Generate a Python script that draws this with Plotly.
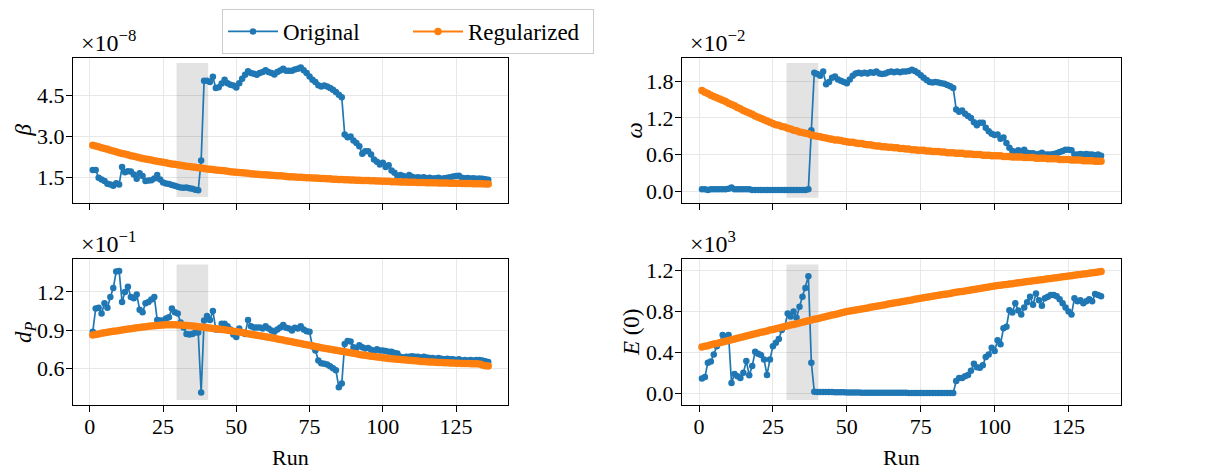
import plotly.graph_objects as go
from plotly.subplots import make_subplots

runs = list(range(1, 137))

beta_orig = [1.78, 1.78, 1.50, 1.44, 1.38, 1.28, 1.26, 1.21, 1.30, 1.26,
             1.89, 1.70, 1.74, 1.73, 1.62, 1.46, 1.66, 1.56, 1.38, 1.40,
             1.41, 1.47, 1.60, 1.44, 1.33, 1.29, 1.27, 1.24, 1.21, 1.17,
             1.15, 1.14, 1.15, 1.12, 1.10, 1.07, 1.05, 2.13, 5.02, 5.02,
             4.97, 5.16, 4.75, 4.78, 4.92, 5.05, 4.93, 4.87, 4.84, 4.77,
             4.93, 5.09, 5.23, 5.36, 5.30, 5.27, 5.23, 5.30, 5.33, 5.40,
             5.33, 5.30, 5.24, 5.33, 5.39, 5.45, 5.38, 5.38, 5.38, 5.42,
             5.45, 5.50, 5.40, 5.30, 5.17, 5.05, 4.97, 4.85, 4.81, 4.84,
             4.81, 4.75, 4.69, 4.61, 4.51, 4.42, 3.07, 2.97, 3.00, 2.85,
             2.76, 2.64, 2.37, 2.46, 2.46, 2.34, 2.16, 2.08, 1.98, 2.04,
             1.89, 1.95, 1.76, 1.68, 1.56, 1.60, 1.56, 1.52, 1.60, 1.54,
             1.50, 1.52, 1.50, 1.52, 1.48, 1.50, 1.47, 1.48, 1.50, 1.46,
             1.48, 1.50, 1.52, 1.55, 1.56, 1.57, 1.50, 1.48, 1.49, 1.47,
             1.48, 1.46, 1.47, 1.46, 1.45, 1.43]
beta_reg = [2.68, 2.65, 2.62, 2.59, 2.56, 2.53, 2.50, 2.47, 2.44, 2.41,
            2.38, 2.36, 2.33, 2.30, 2.28, 2.25, 2.23, 2.20, 2.18, 2.16,
            2.14, 2.12, 2.10, 2.08, 2.06, 2.04, 2.02, 2.00, 1.99, 1.97,
            1.95, 1.94, 1.92, 1.91, 1.89, 1.88, 1.86, 1.85, 1.84, 1.82,
            1.81, 1.80, 1.78, 1.77, 1.76, 1.75, 1.74, 1.72, 1.71, 1.70,
            1.69, 1.68, 1.67, 1.66, 1.65, 1.64, 1.63, 1.62, 1.61, 1.61,
            1.60, 1.59, 1.58, 1.57, 1.57, 1.56, 1.55, 1.54, 1.54, 1.53,
            1.52, 1.52, 1.51, 1.50, 1.50, 1.49, 1.49, 1.48, 1.47, 1.47,
            1.46, 1.46, 1.45, 1.45, 1.44, 1.44, 1.43, 1.43, 1.42, 1.42,
            1.41, 1.41, 1.40, 1.40, 1.40, 1.39, 1.39, 1.38, 1.38, 1.37,
            1.37, 1.37, 1.36, 1.36, 1.36, 1.35, 1.35, 1.35, 1.34, 1.34,
            1.34, 1.33, 1.33, 1.33, 1.32, 1.32, 1.32, 1.32, 1.31, 1.31,
            1.31, 1.31, 1.30, 1.30, 1.30, 1.30, 1.29, 1.29, 1.29, 1.29,
            1.28, 1.28, 1.28, 1.28, 1.27, 1.27]

omega_orig = [0.03, 0.03, 0.02, 0.03, 0.03, 0.03, 0.03, 0.03, 0.03, 0.04,
              0.06, 0.03, 0.03, 0.03, 0.03, 0.03, 0.03, 0.02, 0.02, 0.02,
              0.02, 0.02, 0.02, 0.02, 0.02, 0.02, 0.02, 0.02, 0.02, 0.02,
              0.02, 0.02, 0.02, 0.02, 0.02, 0.02, 0.03, 1.00, 1.94, 1.92,
              1.89, 1.96, 1.75, 1.79, 1.86, 1.88, 1.83, 1.81, 1.79, 1.77,
              1.83, 1.89, 1.93, 1.94, 1.93, 1.94, 1.93, 1.95, 1.94, 1.96,
              1.93, 1.92, 1.93, 1.95, 1.96, 1.95, 1.96, 1.95, 1.96, 1.96,
              1.97, 1.99, 1.97, 1.94, 1.90, 1.86, 1.82, 1.79, 1.78, 1.79,
              1.78, 1.77, 1.76, 1.74, 1.72, 1.69, 1.34, 1.30, 1.32, 1.27,
              1.23, 1.20, 1.13, 1.08, 1.12, 1.12, 1.04, 0.98, 0.94, 0.92,
              0.93, 0.86, 0.88, 0.79, 0.71, 0.66, 0.64, 0.67, 0.63, 0.68,
              0.63, 0.62, 0.62, 0.60, 0.61, 0.63, 0.60, 0.60, 0.60, 0.61,
              0.62, 0.64, 0.66, 0.68, 0.68, 0.67, 0.60, 0.60, 0.61, 0.60,
              0.61, 0.60, 0.60, 0.59, 0.60, 0.58]
omega_reg = [1.65, 1.62, 1.60, 1.57, 1.55, 1.53, 1.51, 1.49, 1.47, 1.44,
             1.42, 1.40, 1.37, 1.35, 1.32, 1.30, 1.28, 1.26, 1.23, 1.21,
             1.19, 1.17, 1.15, 1.13, 1.11, 1.09, 1.08, 1.06, 1.05, 1.03,
             1.02, 1.00, 0.99, 0.97, 0.96, 0.95, 0.94, 0.92, 0.91, 0.90,
             0.89, 0.88, 0.87, 0.86, 0.85, 0.84, 0.84, 0.83, 0.82, 0.81,
             0.80, 0.80, 0.79, 0.78, 0.78, 0.77, 0.76, 0.76, 0.75, 0.74,
             0.74, 0.73, 0.73, 0.72, 0.72, 0.71, 0.71, 0.70, 0.70, 0.69,
             0.69, 0.68, 0.68, 0.67, 0.67, 0.67, 0.66, 0.66, 0.65, 0.65,
             0.65, 0.64, 0.64, 0.63, 0.63, 0.63, 0.62, 0.62, 0.62, 0.61,
             0.61, 0.61, 0.60, 0.60, 0.60, 0.59, 0.59, 0.59, 0.58, 0.58,
             0.58, 0.58, 0.57, 0.57, 0.57, 0.56, 0.56, 0.56, 0.56, 0.55,
             0.55, 0.55, 0.55, 0.54, 0.54, 0.54, 0.54, 0.53, 0.53, 0.53,
             0.53, 0.52, 0.52, 0.52, 0.52, 0.51, 0.51, 0.51, 0.51, 0.50,
             0.50, 0.50, 0.50, 0.49, 0.49, 0.49]

dp_orig = [0.887, 1.07, 1.075, 1.03, 1.11, 1.075, 1.16, 1.23, 1.36, 1.365,
           1.12, 1.20, 1.24, 1.16, 1.15, 1.18, 1.06, 1.04, 1.11, 1.12,
           1.14, 1.16, 0.98, 0.976, 0.976, 0.99, 1.00, 1.07, 1.04, 1.03,
           0.96, 0.92, 0.87, 0.866, 0.87, 0.88, 0.88, 0.41, 0.976, 1.01,
           0.98, 1.05, 0.905, 0.905, 0.95, 0.95, 0.93, 0.905, 0.866, 0.845,
           0.913, 0.88, 0.87, 0.98, 0.93, 0.92, 0.92, 0.92, 0.913, 0.93,
           0.913, 0.897, 0.887, 0.905, 0.92, 0.94, 0.918, 0.913, 0.897, 0.918,
           0.913, 0.93, 0.905, 0.89, 0.887, 0.77, 0.74, 0.66, 0.64, 0.635,
           0.63, 0.615, 0.60, 0.585, 0.45, 0.48, 0.79, 0.815, 0.81, 0.765,
           0.76, 0.78, 0.765, 0.755, 0.76, 0.745, 0.735, 0.75, 0.74, 0.74,
           0.735, 0.73, 0.73, 0.72, 0.715, 0.69, 0.685, 0.69, 0.69, 0.695,
           0.69, 0.69, 0.685, 0.69, 0.685, 0.68, 0.68, 0.675, 0.68, 0.675,
           0.67, 0.675, 0.67, 0.67, 0.665, 0.67, 0.66, 0.665, 0.66, 0.665,
           0.66, 0.665, 0.665, 0.66, 0.655, 0.65]
dp_reg = [0.862, 0.866, 0.870, 0.874, 0.878, 0.882, 0.886, 0.890, 0.893, 0.897,
          0.901, 0.904, 0.908, 0.911, 0.915, 0.918, 0.921, 0.924, 0.927, 0.930,
          0.932, 0.934, 0.936, 0.938, 0.940, 0.941, 0.941, 0.941, 0.941, 0.940,
          0.939, 0.937, 0.936, 0.934, 0.932, 0.930, 0.927, 0.925, 0.922, 0.918,
          0.916, 0.913, 0.910, 0.908, 0.905, 0.902, 0.898, 0.895, 0.891, 0.888,
          0.884, 0.880, 0.876, 0.872, 0.868, 0.864, 0.860, 0.856, 0.852, 0.848,
          0.844, 0.839, 0.835, 0.830, 0.826, 0.821, 0.817, 0.812, 0.808, 0.803,
          0.798, 0.794, 0.789, 0.785, 0.780, 0.776, 0.771, 0.767, 0.762, 0.758,
          0.754, 0.750, 0.745, 0.741, 0.737, 0.733, 0.729, 0.725, 0.721, 0.717,
          0.713, 0.709, 0.705, 0.702, 0.698, 0.695, 0.692, 0.689, 0.686, 0.683,
          0.680, 0.677, 0.675, 0.672, 0.670, 0.668, 0.666, 0.664, 0.662, 0.660,
          0.658, 0.656, 0.654, 0.653, 0.651, 0.650, 0.649, 0.648, 0.646, 0.645,
          0.644, 0.643, 0.642, 0.641, 0.640, 0.639, 0.638, 0.638, 0.637, 0.636,
          0.636, 0.635, 0.634, 0.625, 0.620, 0.618]

e0_orig = [0.144, 0.16, 0.30, 0.31, 0.38, 0.46, 0.495, 0.57, 0.55, 0.57,
           0.10, 0.19, 0.167, 0.15, 0.20, 0.315, 0.177, 0.266, 0.407, 0.387,
           0.374, 0.33, 0.18, 0.33, 0.46, 0.495, 0.53, 0.62, 0.65, 0.78,
           0.75, 0.80, 0.74, 0.846, 0.944, 1.03, 1.144, 0.30, 0.015, 0.014,
           0.014, 0.013, 0.013, 0.012, 0.012, 0.011, 0.011, 0.010, 0.010, 0.009,
           0.008, 0.008, 0.007, 0.007, 0.006, 0.005, 0.005, 0.005, 0.005, 0.005,
           0.005, 0.005, 0.005, 0.005, 0.005, 0.005, 0.005, 0.005, 0.005, 0.005,
           0.004, 0.004, 0.004, 0.004, 0.004, 0.004, 0.004, 0.004, 0.004, 0.004,
           0.004, 0.004, 0.004, 0.004, 0.004, 0.004, 0.12, 0.15, 0.15, 0.167,
           0.18, 0.22, 0.29, 0.256, 0.25, 0.275, 0.354, 0.38, 0.446, 0.413,
           0.518, 0.48, 0.636, 0.65, 0.813, 0.79, 0.88, 0.81, 0.77, 0.84,
           0.89, 0.944, 0.866, 0.977, 0.91, 0.856, 0.93, 0.944, 0.96, 0.96,
           0.95, 0.92, 0.88, 0.84, 0.80, 0.77, 0.93, 0.90, 0.91, 0.88,
           0.90, 0.92, 0.90, 0.97, 0.96, 0.95]
e0_reg = [0.452, 0.459, 0.466, 0.474, 0.481, 0.488, 0.495, 0.502, 0.510, 0.517,
          0.524, 0.531, 0.538, 0.546, 0.553, 0.560, 0.567, 0.574, 0.582, 0.589,
          0.596, 0.603, 0.610, 0.618, 0.625, 0.632, 0.639, 0.646, 0.653, 0.660,
          0.667, 0.674, 0.681, 0.688, 0.695, 0.702, 0.709, 0.716, 0.723, 0.730,
          0.737, 0.744, 0.751, 0.758, 0.765, 0.771, 0.778, 0.785, 0.792, 0.799,
          0.804, 0.809, 0.815, 0.820, 0.825, 0.830, 0.835, 0.841, 0.846, 0.851,
          0.856, 0.861, 0.867, 0.872, 0.877, 0.882, 0.887, 0.893, 0.898, 0.903,
          0.908, 0.913, 0.919, 0.924, 0.929, 0.934, 0.939, 0.943, 0.948, 0.953,
          0.958, 0.963, 0.968, 0.972, 0.977, 0.982, 0.987, 0.992, 0.996, 1.001,
          1.006, 1.011, 1.016, 1.020, 1.025, 1.030, 1.035, 1.040, 1.044, 1.049,
          1.053, 1.057, 1.061, 1.065, 1.069, 1.072, 1.076, 1.080, 1.084, 1.088,
          1.092, 1.096, 1.100, 1.104, 1.108, 1.111, 1.115, 1.119, 1.123, 1.127,
          1.131, 1.135, 1.139, 1.143, 1.147, 1.150, 1.154, 1.158, 1.162, 1.166,
          1.170, 1.174, 1.178, 1.182, 1.186, 1.190]

panel_labels = ["<i>β</i>", "<i>ω</i>", "<i>d</i><sub><i>P</i></sub>", "<i>E</i> (0)"]
exp_labels = ["×10<sup>−8</sup>", "×10<sup>−2</sup>", "×10<sup>−1</sup>", "×10<sup>3</sup>"]
yticks = [[1.5, 3.0, 4.5], [0.0, 0.6, 1.2, 1.8], [0.6, 0.9, 1.2], [0.0, 0.4, 0.8, 1.2]]
xticks = [0, 25, 50, 75, 100, 125]
series_names = ["Original", "Regularized"]

BLUE = "#1f77b4"
ORANGE = "#ff7f0e"
FONT = "Liberation Serif"
W, H = 1205, 475

fig = make_subplots(rows=2, cols=2)

panels = [
    (1, 1, beta_orig, beta_reg, [0.58, 5.85], [0.80, 5.66]),
    (1, 2, omega_orig, omega_reg, [-0.196, 2.186], [-0.109, 2.099]),
    (2, 1, dp_orig, dp_reg, [0.309, 1.459], [0.351, 1.415]),
    (2, 2, e0_orig, e0_reg, [-0.117, 1.314], [-0.065, 1.259]),
]

xdom = {1: [73 / W, 508 / W], 2: [682 / W, 1121 / W]}
ydom = {1: [1 - 203 / H, 1 - 57 / H], 2: [1 - 406 / H, 1 - 259 / H]}
ylab_px = {(1, 1): 23, (1, 2): 634, (2, 1): 25, (2, 2): 631}

for i, (r, c, orig, reg, yr, shade) in enumerate(panels):
    fig.add_trace(go.Scatter(x=runs, y=orig, mode="lines+markers", name=series_names[0],
                             line=dict(color=BLUE, width=1.7),
                             marker=dict(color=BLUE, size=6.5),
                             showlegend=(i == 0)), row=r, col=c)
    fig.add_trace(go.Scatter(x=runs, y=reg, mode="lines+markers", name=series_names[1],
                             line=dict(color=ORANGE, width=2),
                             marker=dict(color=ORANGE, size=7.5),
                             showlegend=(i == 0)), row=r, col=c)
    fig.add_shape(type="rect", x0=29.6, x1=40.4, y0=shade[0], y1=shade[1],
                  fillcolor="rgba(0,0,0,0.11)", line=dict(width=0), layer="between",
                  row=r, col=c)
    fig.update_xaxes(domain=xdom[c], range=[-5.75, 142.75], tickvals=xticks,
                     showticklabels=(r == 2), ticks="outside", ticklen=6, tickwidth=1.2,
                     tickcolor="black", showline=True, linecolor="black", linewidth=1.3,
                     mirror=True, showgrid=True, gridcolor="#e8e8e8", gridwidth=1,
                     zeroline=False, tickfont=dict(size=22, family=FONT),
                     ticklabelstandoff=-5, row=r, col=c)
    fig.update_yaxes(domain=ydom[r], range=yr, tickvals=yticks[i], tickformat=".1f",
                     ticks="outside", ticklen=6, tickwidth=1.2, tickcolor="black",
                     showline=True, linecolor="black", linewidth=1.3, mirror=True,
                     showgrid=True, gridcolor="#e8e8e8", gridwidth=1, zeroline=False,
                     tickfont=dict(size=22, family=FONT), ticklabelstandoff=-3,
                     row=r, col=c)
    xref = "x" if i == 0 else f"x{i + 1}"
    yref = "y" if i == 0 else f"y{i + 1}"
    fig.add_annotation(text=exp_labels[i], xref=f"{xref} domain", yref=f"{yref} domain",
                       x=0, y=1, xanchor="left", yanchor="bottom", yshift=0, xshift=6,
                       showarrow=False, font=dict(size=24, family=FONT, color="black"))
    ymid = (ydom[r][0] + ydom[r][1]) / 2
    fig.add_annotation(text=panel_labels[i], xref="paper", yref="paper",
                       x=ylab_px[(r, c)] / W, y=ymid,
                       xanchor="center", yanchor="middle", textangle=-90, showarrow=False,
                       font=dict(size=23, family=FONT, color="black"))
    if r == 2:
        xmid = (xdom[c][0] + xdom[c][1]) / 2
        fig.add_annotation(text="Run", xref="paper", yref="paper", x=xmid, y=2 / H,
                           xanchor="center", yanchor="bottom", showarrow=False,
                           font=dict(size=22, family=FONT, color="black"))

fig.update_layout(
    width=W, height=H,
    margin=dict(l=0, r=0, t=0, b=0),
    paper_bgcolor="white", plot_bgcolor="white",
    font=dict(family=FONT, size=22, color="black"),
    legend=dict(orientation="h", x=222 / W, y=1 - 8 / H, xanchor="left", yanchor="top",
                bordercolor="#cccccc", borderwidth=1, bgcolor="white",
                font=dict(size=23, family=FONT), itemwidth=50, entrywidth=120,
                entrywidthmode="pixels"),
)

fig.write_html("out.html")
